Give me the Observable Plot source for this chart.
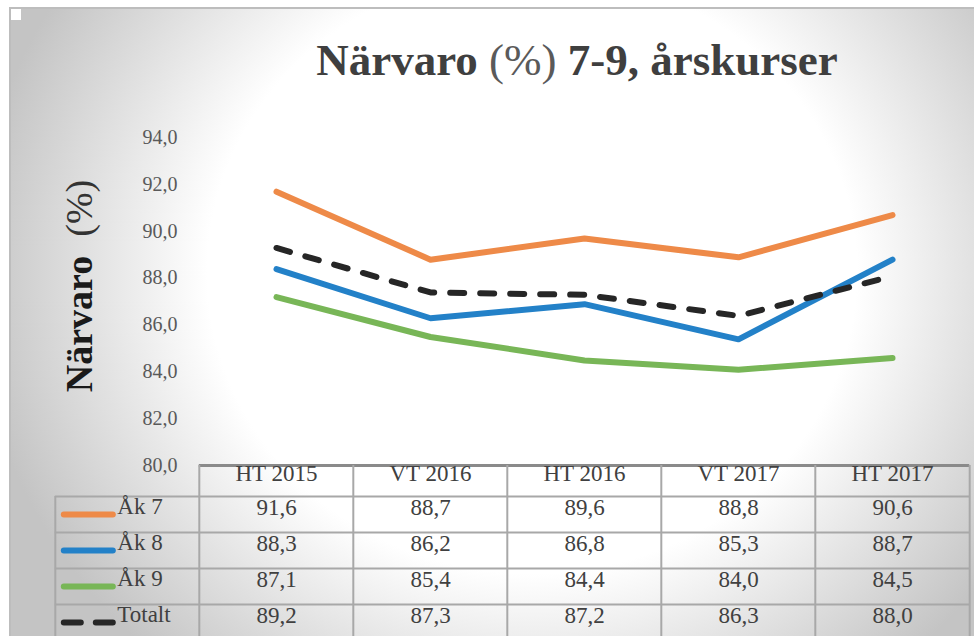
<!DOCTYPE html>
<html>
<head>
<meta charset="utf-8">
<script src="https://cdn.jsdelivr.net/npm/d3@7"></script>
<script src="https://cdn.jsdelivr.net/npm/@observablehq/plot@0.6"></script>
<style>
  html, body { margin: 0; padding: 0; background: #ffffff; }
  #bg {
    position: absolute; left: 9px; top: 7px; width: 970px; height: 640px;
    border-left: 2px solid #bdbdbd; border-top: 2px solid #bdbdbd;
    background: radial-gradient(ellipse 560px 520px at 521px 263px, #ffffff 0%, #ffffff 58%, #c4c4c4 100%);
  }
  #sq { position: absolute; left: 11px; top: 9px; width: 10px; height: 11px; background: #ffffff; }
  #chart { position: absolute; left: 0; top: 0; }
</style>
</head>
<body>
<div id="bg"></div>
<div id="sq"></div>
<div id="chart"></div>
<script>
// ---- data ----
const periods = ["HT 2015", "VT 2016", "HT 2016", "VT 2017", "HT 2017"];
const ak7 = [91.6, 88.7, 89.6, 88.8, 90.6];
const ak8 = [88.3, 86.2, 86.8, 85.3, 88.7];
const ak9 = [87.1, 85.4, 84.4, 84.0, 84.5];
const totalt = [89.2, 87.3, 87.2, 86.3, 88.0];
const seriesNames = ["Åk 7", "Åk 8", "Åk 9", "Totalt"];
const seriesValues = [ak7, ak8, ak9, totalt];
const seriesColors = ["#EE8A48", "#2381C8", "#78B657", "#262626"];
const yTicks = [80, 82, 84, 86, 88, 90, 92, 94];
const titleParts = [["Närvaro ", "bold", "#3f3f3f"], ["(%)", "normal", "#5a5a5a"], [" 7-9, årskurser", "bold", "#3f3f3f"]];
const yLabelParts = [["Närvaro", "bold", "#1a1a1a"], ["\u00a0\u00a0(%)", "normal", "#333333"]];

// ---- layout ----
const FONT = "'Liberation Serif', 'DejaVu Serif', serif";
const W = 974, H = 636;
const mL = 198, mR = 4, mT = 137, mB = 171;
const colW = (W - mL - mR) / periods.length;      // table column width
const legendW = 144;                               // legend column width
const headerH = 31, rowH = 36;
const TABLE_FS = 23;
const fmt = v => v.toFixed(1).replace(".", ",");

const rows = [];
seriesNames.forEach((s, k) => seriesValues[k].forEach((v, i) => rows.push({series: s, period: periods[i], value: v})));

const marks = [];

// y tick labels
marks.push(Plot.text(yTicks, {
  y: d => d, frameAnchor: "left", textAnchor: "end", dx: -21, text: d => fmt(d),
  fontSize: 20, fill: "#595959", fontFamily: FONT
}));

// table grid: header top (thick)
marks.push(Plot.ruleY([80], {
  x1: () => periods[0], x2: () => periods[periods.length - 1],
  insetLeft: -colW / 2, insetRight: -colW / 2, stroke: "#8a8a8a", strokeWidth: 3
}));
// horizontal row lines
for (let k = 0; k < seriesNames.length; k++) {
  marks.push(Plot.ruleY([80], {
    x1: () => periods[0], x2: () => periods[periods.length - 1],
    insetLeft: -(colW / 2 + legendW), insetRight: -colW / 2,
    dy: headerH + rowH * k, stroke: "#a8a8a8", strokeWidth: 2
  }));
}
// vertical column lines
marks.push(Plot.ruleX(periods, {
  x: d => d, dx: -colW / 2, y1: 80, y2: 80, insetBottom: -mB, stroke: "#a8a8a8", strokeWidth: 2
}));
marks.push(Plot.ruleX([periods[periods.length - 1]], {
  x: d => d, dx: colW / 2, y1: 80, y2: 80, insetBottom: -mB, stroke: "#a8a8a8", strokeWidth: 2
}));
marks.push(Plot.ruleX([periods[0]], {
  x: d => d, dx: -colW / 2 - legendW, y1: 80, y2: 80, insetTop: headerH, insetBottom: -mB,
  stroke: "#a8a8a8", strokeWidth: 2
}));

// header labels
marks.push(Plot.text(periods, {
  x: d => d, frameAnchor: "bottom", dy: headerH / 2, text: d => d,
  fontSize: TABLE_FS, fill: "#404040", fontFamily: FONT
}));

// table rows: legend swatch, name, values
const x0 = mL + colW / 2;  // pixel position of first period
seriesNames.forEach((s, k) => {
  const cy = headerH + rowH * k + rowH / 2;
  const dashed = s === "Totalt";
  marks.push(Plot.ruleY([80], {
    x1: () => periods[0], x2: () => periods[0],
    insetLeft: 63 - x0, insetRight: x0 - 112, dy: cy,
    stroke: seriesColors[k], strokeWidth: 6, strokeLinecap: "round",
    strokeDasharray: dashed ? "17,15" : null
  }));
  marks.push(Plot.text([s], {
    x: () => periods[0], frameAnchor: "bottom", dx: 116 - x0, dy: cy - 1, textAnchor: "start",
    text: d => d, fontSize: TABLE_FS, fill: "#404040", fontFamily: FONT
  }));
  marks.push(Plot.text(seriesValues[k], {
    x: (d, i) => periods[i], frameAnchor: "bottom", dy: cy, text: d => fmt(d),
    fontSize: TABLE_FS, fill: "#404040", fontFamily: FONT
  }));
});

// lines
seriesNames.forEach((s, k) => {
  marks.push(Plot.line(rows.filter(r => r.series === s), {
    x: "period", y: "value", dy: -2, stroke: seriesColors[k], strokeWidth: 6,
    strokeLinecap: "round", strokeLinejoin: "round",
    strokeDasharray: s === "Totalt" ? "14,16" : null
  }));
});

const chart = Plot.plot({
  width: W, height: H,
  marginLeft: mL, marginRight: mR, marginTop: mT, marginBottom: mB,
  style: {background: "transparent", fontFamily: FONT, overflow: "visible"},
  x: {type: "point", domain: periods, padding: 0.5, axis: null},
  y: {domain: [80, 94], axis: null},
  marks
});

const svg = d3.select(chart);
// title
const t = svg.append("text")
  .attr("x", 577).attr("y", 75).attr("text-anchor", "middle")
  .attr("font-family", FONT).attr("font-size", 45);
titleParts.forEach(([s, w, c]) => t.append("tspan").style("font-weight", w).attr("fill", c).text(s));
// y label
const yl = svg.append("text")
  .attr("transform", "translate(92,286) rotate(-90)").attr("text-anchor", "middle")
  .attr("font-family", FONT).attr("font-size", 38);
yLabelParts.forEach(([s, w, c]) => yl.append("tspan").style("font-weight", w).attr("fill", c).text(s));

document.getElementById("chart").append(chart);
</script>
</body>
</html>
